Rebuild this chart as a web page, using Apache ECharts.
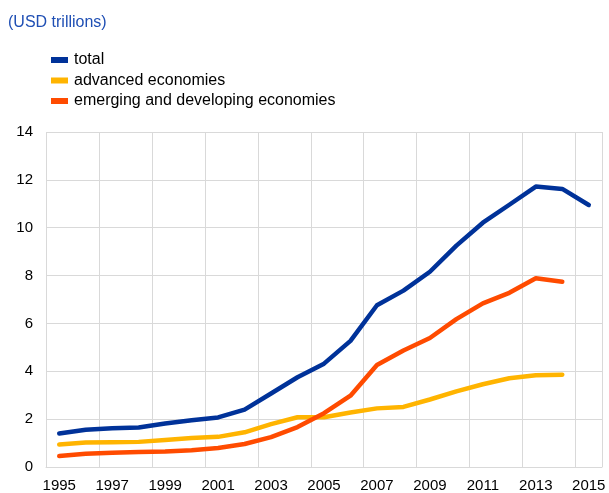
<!DOCTYPE html>
<html>
<head>
<meta charset="utf-8">
<script src="https://cdn.jsdelivr.net/npm/echarts@6/dist/echarts.min.js"></script>
<style>
html,body{margin:0;padding:0;background:#fff;}
#chart{width:609px;height:493px;}
</style>
</head>
<body>
<div id="chart"></div>
<script>
var years = ['1995','1996','1997','1998','1999','2000','2001','2002','2003','2004','2005','2006','2007','2008','2009','2010','2011','2012','2013','2014','2015'];
var total = [1.40,1.56,1.62,1.65,1.82,1.95,2.07,2.40,3.07,3.75,4.32,5.27,6.76,7.37,8.16,9.25,10.21,10.96,11.72,11.62,10.95];
var advanced = [0.94,1.02,1.03,1.05,1.13,1.21,1.26,1.45,1.79,2.08,2.08,2.28,2.45,2.51,2.82,3.16,3.46,3.71,3.83,3.86,null];
var emerging = [0.46,0.55,0.60,0.63,0.65,0.70,0.79,0.96,1.25,1.67,2.25,2.98,4.26,4.87,5.39,6.18,6.84,7.28,7.89,7.74,null];
var seriesNames = ['total','advanced economies','emerging and developing economies'];
var unitLabel = '(USD trillions)';

var colors = ['#003299','#ffb400','#ff4b00'];
var chart = echarts.init(document.getElementById('chart'), null, {renderer:'canvas'});
var font = 'Liberation Sans, Arial, sans-serif';
function mk(name, data, c){
  return {name:name,type:'line',data:data,symbol:'none',connectNulls:false,
    lineStyle:{width:4.5,color:c,cap:'round',join:'round'},itemStyle:{color:c},animation:false};
}
chart.setOption({
  animation:false,
  title:{text:unitLabel,left:8,top:15,padding:0,
    textStyle:{fontFamily:font,fontSize:16,fontWeight:'normal',color:'#1f4fb4'}},
  legend:{orient:'vertical',left:46,top:47,itemWidth:17,itemHeight:6,itemGap:4.5,icon:'rect',
    data:seriesNames,
    textStyle:{fontFamily:font,fontSize:16,color:'#000',padding:[0,0,0,1]}},
  grid:{left:46,right:7,top:132,bottom:26,containLabel:false},
  xAxis:{type:'category',data:years,boundaryGap:true,
    axisLine:{show:true,lineStyle:{color:'#d9d9d9',width:1}},
    axisTick:{show:false,interval:1},
    axisLabel:{interval:1,margin:11,fontFamily:font,fontSize:15,color:'#000'},
    splitLine:{show:true,interval:1,lineStyle:{color:'#d9d9d9',width:1}}},
  yAxis:{type:'value',min:0,max:14,interval:2,
    axisLine:{show:false},axisTick:{show:false},
    axisLabel:{margin:13,fontFamily:font,fontSize:15,color:'#000'},
    splitLine:{show:true,lineStyle:{color:'#d9d9d9',width:1}}},
  series:[mk(seriesNames[0],total,colors[0]),mk(seriesNames[1],advanced,colors[1]),mk(seriesNames[2],emerging,colors[2])]
});
</script>
</body>
</html>
